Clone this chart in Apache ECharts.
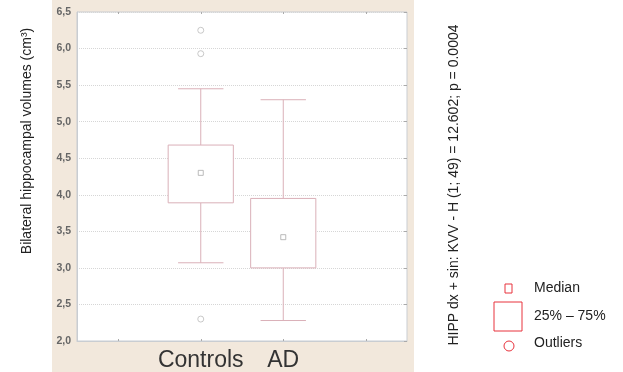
<!DOCTYPE html>
<html>
<head>
<meta charset="utf-8">
<script src="https://cdn.jsdelivr.net/npm/echarts@6/dist/echarts.min.js"></script>
<style>html,body{margin:0;padding:0;background:#fff;}#c{width:623px;height:372px;}</style>
</head>
<body>
<div id="c"></div>
<script>
var categories = ['', 'Controls', 'AD', ''];
var groups = ['Controls', 'AD'];
var whiskerLow = [3.07, 2.28];
var q1 = [3.89, 3.00];
var median = [4.30, 3.42];
var q3 = [4.68, 3.95];
var whiskerHigh = [5.45, 5.30];
var outliers = [['Controls', 6.25], ['Controls', 5.93], ['Controls', 2.30]];
var yTicks = [2.0, 2.5, 3.0, 3.5, 4.0, 4.5, 5.0, 5.5, 6.0, 6.5];

var boxData = groups.map(function (g, i) {
  return [categories.indexOf(g), whiskerLow[i], q1[i], median[i], q3[i], whiskerHigh[i]];
});
var medianData = groups.map(function (g, i) { return [g, median[i]]; });

var chart = echarts.init(document.getElementById('c'));
var boxColor = '#dab0b8';
var font = 'Liberation Sans, Arial, sans-serif';

chart.setOption({
  animation: false,
  backgroundColor: '#fff',
  graphic: [
    { type: 'rect', z: -10, shape: { x: 52, y: 0, width: 362, height: 372 }, style: { fill: '#f2e8dc' } },
    { type: 'text', x: 27, y: 141, rotation: Math.PI / 2,
      style: { text: 'Bilateral hippocampal volumes (cm³)', font: '14px ' + font, fill: '#222', align: 'center', verticalAlign: 'middle' } },
    { type: 'text', x: 454, y: 185, rotation: Math.PI / 2,
      style: { text: 'HIPP dx + sin: KVV - H (1; 49) = 12.602; p = 0.0004', font: '14px ' + font, fill: '#222', align: 'center', verticalAlign: 'middle' } },
    { type: 'rect', shape: { x: 505, y: 284, width: 7, height: 9 }, style: { fill: 'none', stroke: '#e8323c', lineWidth: 1 } },
    { type: 'rect', shape: { x: 494, y: 302, width: 28, height: 29 }, style: { fill: 'none', stroke: '#e8323c', lineWidth: 1 } },
    { type: 'circle', shape: { cx: 509, cy: 346, r: 5 }, style: { fill: 'none', stroke: '#e8323c', lineWidth: 1 } },
    { type: 'text', x: 534, y: 288, style: { text: 'Median', font: '14px ' + font, fill: '#222', verticalAlign: 'middle' } },
    { type: 'text', x: 534, y: 316, style: { text: '25% – 75%', font: '14px ' + font, fill: '#222', verticalAlign: 'middle' } },
    { type: 'text', x: 534, y: 343, style: { text: 'Outliers', font: '14px ' + font, fill: '#222', verticalAlign: 'middle' } }
  ],
  grid: { left: 77, right: 216, top: 12, bottom: 30, show: true, backgroundColor: '#fff', borderColor: '#c9cdd2', borderWidth: 1 },
  xAxis: [{
    type: 'category', data: categories, boundaryGap: true,
    axisLine: { show: true, lineStyle: { color: '#c9cdd2' } },
    axisTick: { show: true, alignWithLabel: true, length: 2, inside: true, lineStyle: { color: '#aaa' } },
    axisLabel: { color: '#333', fontSize: 23, fontFamily: font, margin: 8, interval: 0 },
    splitLine: { show: false }
  }, {
    type: 'category', data: categories, position: 'top', boundaryGap: true,
    axisLine: { show: false },
    axisTick: { show: true, alignWithLabel: true, length: 2, inside: true, lineStyle: { color: '#aaa' } },
    axisLabel: { show: false }
  }],
  yAxis: [{
    type: 'value', min: 2, max: 6.5, interval: 0.5,
    axisLine: { show: true, lineStyle: { color: '#c9cdd2' } },
    axisTick: { show: false },
    axisLabel: { color: '#666', fontSize: 10.5, fontFamily: font, fontWeight: 'bold', margin: 6,
      formatter: function (v) { return v.toFixed(1).replace('.', ','); } },
    splitLine: { show: true, lineStyle: { color: '#d6d6d6', type: 'dotted' } }
  }, {
    type: 'value', min: 2, max: 6.5, interval: 0.5, position: 'right',
    axisLine: { show: false },
    axisTick: { show: true, length: 3, inside: true, lineStyle: { color: '#aaa' } },
    axisLabel: { show: false },
    splitLine: { show: false }
  }],
  series: [{
    type: 'custom',
    data: boxData,
    renderItem: function (params, api) {
      var x = api.value(0);
      var band = api.size([1, 0])[0];
      var bw = band * 0.79, cw = band * 0.55;
      var pLow = api.coord([x, api.value(1)]);
      var pQ1 = api.coord([x, api.value(2)]);
      var pQ3 = api.coord([x, api.value(4)]);
      var pHigh = api.coord([x, api.value(5)]);
      var cx = pLow[0];
      var st = { stroke: boxColor, lineWidth: 1, fill: 'none' };
      return {
        type: 'group',
        children: [
          { type: 'line', shape: { x1: cx, y1: pHigh[1], x2: cx, y2: pQ3[1] }, style: st },
          { type: 'line', shape: { x1: cx, y1: pQ1[1], x2: cx, y2: pLow[1] }, style: st },
          { type: 'line', shape: { x1: cx - cw / 2, y1: pHigh[1], x2: cx + cw / 2, y2: pHigh[1] }, style: st },
          { type: 'line', shape: { x1: cx - cw / 2, y1: pLow[1], x2: cx + cw / 2, y2: pLow[1] }, style: st },
          { type: 'rect', shape: { x: cx - bw / 2, y: pQ3[1], width: bw, height: pQ1[1] - pQ3[1] }, style: { stroke: boxColor, lineWidth: 1, fill: '#fff' } }
        ]
      };
    }
  }, {
    type: 'scatter', data: medianData, symbol: 'rect', symbolSize: [5, 5],
    itemStyle: { color: '#fff', borderColor: '#aaa', borderWidth: 1 }, z: 5
  }, {
    type: 'scatter', data: outliers, symbol: 'circle', symbolSize: 6,
    itemStyle: { color: '#fff', borderColor: '#bbb', borderWidth: 1 }, z: 5
  }]
});
</script>
</body>
</html>
